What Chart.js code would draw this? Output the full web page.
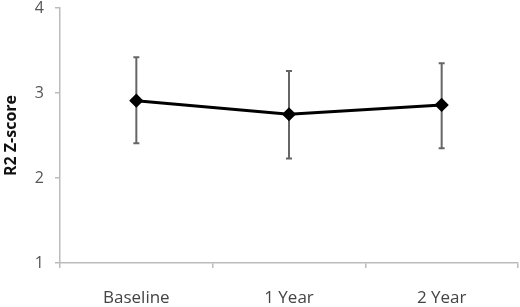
<!DOCTYPE html>
<html>
<head>
<meta charset="utf-8">
<script src="https://cdn.jsdelivr.net/npm/chart.js@4/dist/chart.umd.min.js"></script>
<style>
  html, body { margin: 0; padding: 0; background: #fff; overflow: hidden; }
  #wrap { width: 526px; height: 307px; }
</style>
</head>
<body>
<div id="wrap"><canvas id="zChart"></canvas></div>
<script>
// R2 Z-score over time (means with error bars)
const timepoints = ['Baseline', '1 Year', '2 Year'];
const meanScores = [2.91, 2.75, 2.86];
const errorUpper = [3.42, 3.26, 3.35];
const errorLower = [2.41, 2.23, 2.35];
const yTicks = [1, 2, 3, 4];

// draws the vertical error bars using the chart's own scales
const errorBars = {
    id: 'errorBars',
    beforeDatasetsDraw(chart) {
        const ctx = chart.ctx;
        const xs = chart.scales.x, ys = chart.scales.y;
        ctx.save();
        ctx.strokeStyle = '#666';
        ctx.lineWidth = 2;
        timepoints.forEach((t, i) => {
            const x = xs.getPixelForValue(i);
            const top = ys.getPixelForValue(errorUpper[i]);
            const bot = ys.getPixelForValue(errorLower[i]);
            ctx.beginPath();
            ctx.moveTo(x, top); ctx.lineTo(x, bot);
            ctx.moveTo(x - 3, top); ctx.lineTo(x + 3, top);
            ctx.moveTo(x - 3, bot); ctx.lineTo(x + 3, bot);
            ctx.stroke();
        });
        ctx.restore();
    }
};

const zCtx = document.getElementById('zChart').getContext('2d');
new Chart(zCtx, {
    type: 'line',
    data: {
        labels: timepoints,
        datasets: [{
            label: 'R2 Z-score',
            data: meanScores,
            borderColor: '#000',
            backgroundColor: '#000',
            borderWidth: 3,
            pointStyle: 'rectRot',
            pointRadius: 5,
            fill: false,
            tension: 0,
            clip: false
        }]
    },
    options: {
        responsive: true,
        maintainAspectRatio: false,
        animation: false,
        layout: { padding: 0 },
        plugins: {
            legend: { display: false },
            tooltip: { enabled: false }
        },
        scales: {
            x: {
                offset: true,
                grid: { display: true, drawOnChartArea: false, offset: true, tickLength: 5, color: '#bbb', lineWidth: 1.5 },
                border: { color: '#bbb', width: 1.5 },
                ticks: { color: '#444', padding: 20, font: { family: 'Open Sans', size: 17 } },
                afterFit(scale) { scale.height = 44; }
            },
            y: {
                min: 1,
                max: 4,
                afterBuildTicks(scale) { scale.ticks = yTicks.map(v => ({ value: v })); },
                grid: { display: true, drawOnChartArea: false, tickLength: 5, color: '#bbb', lineWidth: 1.5 },
                border: { color: '#bbb', width: 1.5 },
                ticks: { color: '#555', padding: 11, font: { family: 'Open Sans', size: 16 } },
                title: { display: true, text: 'R2 Z-score', color: '#111', padding: 2, font: { family: 'Open Sans', size: 16, weight: 'bold' } },
                afterFit(scale) { scale.width = 60; scale.paddingTop = 2; }
            }
        }
    },
    plugins: [errorBars]
});
</script>
</body>
</html>
